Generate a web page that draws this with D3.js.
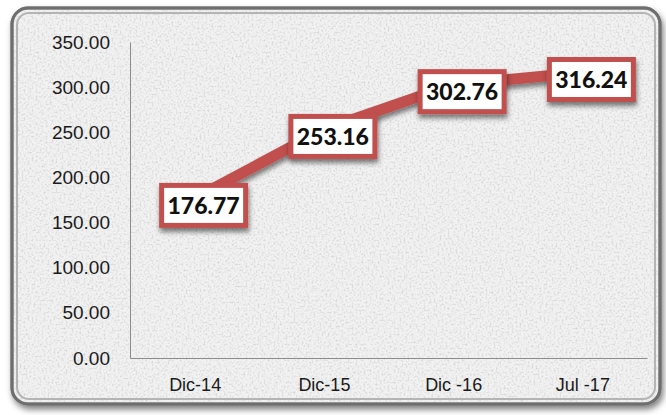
<!DOCTYPE html>
<html>
<head>
<meta charset="utf-8">
<script src="https://cdn.jsdelivr.net/npm/d3@7.9.0/dist/d3.min.js"></script>
<style>
  html, body { margin: 0; padding: 0; background: #fff; }
  svg { display: block; font-family: Lato, "Open Sans", sans-serif; }
</style>
</head>
<body>
<svg id="chart" width="666" height="415"></svg>
<script>
// data
const categories = ['Dic-14', 'Dic-15', 'Dic -16', 'Jul -17'];
const values = [176.77, 253.16, 302.76, 316.24];
const yTicks = [0, 50, 100, 150, 200, 250, 300, 350];

const svg = d3.select('#chart');
const margin = { left: 130, right: 19, top: 42, bottom: 57 };
const W = 666, H = 415;

const defs = svg.append('defs');

// speckled stone texture
const tex = defs.append('filter').attr('id', 'stone')
  .attr('x', 0).attr('y', 0).attr('width', '100%').attr('height', '100%');
tex.append('feTurbulence').attr('type', 'fractalNoise')
  .attr('baseFrequency', 0.5).attr('numOctaves', 2).attr('seed', 4).attr('result', 'n');
tex.append('feColorMatrix').attr('in', 'n').attr('type', 'matrix')
  .attr('values', '0 0 0 0 0.6  0 0 0 0 0.6  0 0 0 0 0.6  2 0 0 0 -0.9')
  .attr('result', 'speck');
tex.append('feComposite').attr('in', 'speck').attr('in2', 'SourceGraphic').attr('operator', 'in');

const shadow = defs.append('filter').attr('id', 'shadow')
  .attr('x', '-20%').attr('y', '-20%').attr('width', '140%').attr('height', '160%');
shadow.append('feDropShadow').attr('dx', 1).attr('dy', 4).attr('stdDeviation', 2.5)
  .attr('flood-color', '#000').attr('flood-opacity', 0.5);

const frameShadow = defs.append('filter').attr('id', 'fshadow')
  .attr('x', '-5%').attr('y', '-5%').attr('width', '110%').attr('height', '115%');
frameShadow.append('feDropShadow').attr('dx', 2).attr('dy', 4).attr('stdDeviation', 3)
  .attr('flood-color', '#000').attr('flood-opacity', 0.5);

// frame
svg.append('rect').attr('x', 12).attr('y', 8).attr('width', 648).attr('height', 396)
  .attr('rx', 16).attr('fill', '#f2f2f2').attr('stroke', '#7a7a7a').attr('stroke-width', 3)
  .attr('filter', 'url(#fshadow)');
svg.append('rect').attr('x', 12).attr('y', 8).attr('width', 648).attr('height', 396)
  .attr('rx', 16).attr('fill', '#f2f2f2').attr('filter', 'url(#stone)');
svg.append('rect').attr('x', 12).attr('y', 8).attr('width', 648).attr('height', 396)
  .attr('rx', 16).attr('fill', 'none').attr('stroke', '#6e6e6e').attr('stroke-width', 3);
svg.append('rect').attr('x', 17).attr('y', 13).attr('width', 638).attr('height', 386)
  .attr('rx', 12).attr('fill', 'none').attr('stroke', '#b4b4b4').attr('stroke-width', 2);

const x = d3.scalePoint().domain(categories)
  .range([margin.left, W - margin.right]).padding(0.5);
const y = d3.scaleLinear().domain([0, 350]).range([H - margin.bottom, margin.top]);

// axes
const yAxis = svg.append('g').attr('transform', `translate(${margin.left},0)`)
  .call(d3.axisLeft(y).tickValues(yTicks).tickFormat(d3.format('.2f')).tickSize(0).tickPadding(20));
yAxis.select('.domain').attr('stroke', '#8c8c8c');
yAxis.selectAll('text').attr('font-size', 19).attr('fill', '#1a1a1a');

const xAxis = svg.append('g').attr('transform', `translate(0,${H - margin.bottom})`)
  .call(d3.axisBottom(x).tickSize(0).tickPadding(20));
xAxis.select('.domain').attr('stroke', '#8c8c8c');
xAxis.selectAll('text').attr('font-size', 18).attr('fill', '#1a1a1a');

// line
const line = d3.line().x((d, i) => x(categories[i])).y(d => y(d));
svg.append('path').datum(values).attr('d', line)
  .attr('fill', 'none').attr('stroke', '#c0504d').attr('stroke-width', 11)
  .attr('stroke-linejoin', 'round').attr('filter', 'url(#shadow)');

// labels
const lbl = svg.append('g').selectAll('g').data(values).join('g')
  .attr('transform', (d, i) => `translate(${x(categories[i]) + 9},${y(d) + 7})`);
lbl.append('rect').attr('x', -42).attr('y', -20).attr('width', 84).attr('height', 40)
  .attr('fill', '#fff').attr('stroke', '#c0504d').attr('stroke-width', 5)
  .attr('filter', 'url(#shadow)');
lbl.append('text').attr('text-anchor', 'middle').attr('dy', '0.36em')
  .attr('font-size', 23).attr('font-weight', 900).attr('fill', '#111')
  .text(d => d.toFixed(2));
</script>
</body>
</html>
